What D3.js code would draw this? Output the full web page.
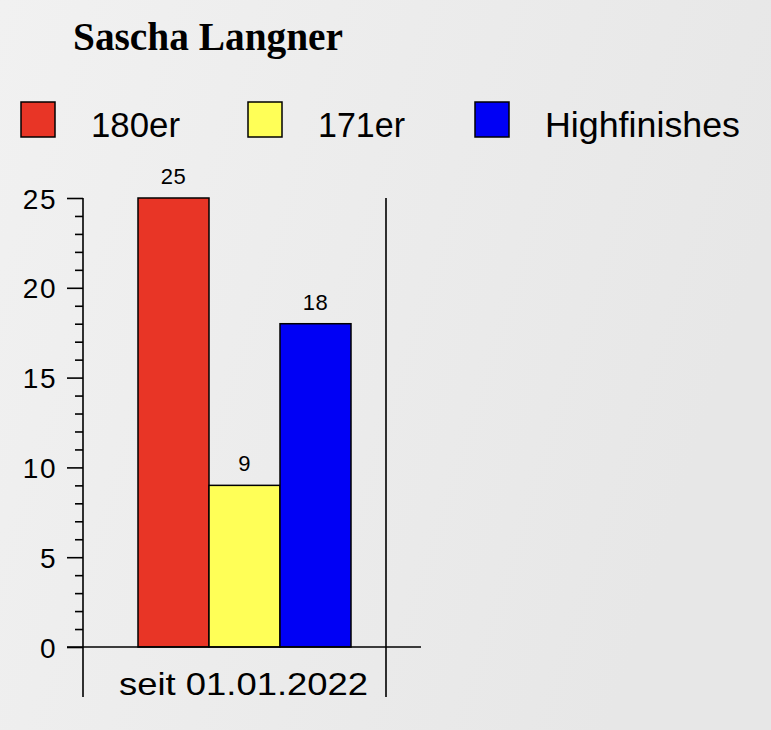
<!DOCTYPE html>
<html>
<head>
<meta charset="utf-8">
<script src="https://cdn.jsdelivr.net/npm/d3@7"></script>
<style>
html,body{margin:0;padding:0;}
body{width:771px;height:730px;overflow:hidden;}
</style>
</head>
<body>
<svg id="chart" width="771" height="730"></svg>
<script>
const title = "Sascha Langner";
const categories = ["seit 01.01.2022"];
const seriesNames = ["180er", "171er", "Highfinishes"];
const seriesValues = [25, 9, 18];
const seriesColors = ["#e83526", "#ffff57", "#0000f5"];
const yMajorTicks = [0, 5, 10, 15, 20, 25];

const svg = d3.select("#chart");
const defs = svg.append("defs");
const grad = defs.append("linearGradient").attr("id","bg").attr("x1","0").attr("y1","0").attr("x2","1").attr("y2","0.3");
grad.append("stop").attr("offset","0").attr("stop-color","#f1f1f1");
grad.append("stop").attr("offset","1").attr("stop-color","#e7e7e7");
svg.append("rect").attr("width",771).attr("height",730).attr("fill","url(#bg)");

// Title
svg.append("text").attr("x",73).attr("y",50)
  .attr("font-family","'Liberation Serif', 'Times New Roman', serif")
  .attr("font-weight","bold").attr("font-size",39)
  .attr("textLength",270).attr("lengthAdjust","spacingAndGlyphs")
  .text(title);

// Legend
const legendX = [21, 248, 475];
const legendW = [89, 87, 195];
const lg = svg.append("g");
seriesNames.forEach((n,i)=>{
  lg.append("rect").attr("x",legendX[i]).attr("y",102).attr("width",34).attr("height",35)
    .attr("fill",seriesColors[i]).attr("stroke","#000").attr("stroke-width",1.5);
  lg.append("text").attr("x",legendX[i]+70).attr("y",137)
    .attr("font-family","'Liberation Sans', Arial, Helvetica, sans-serif")
    .attr("font-size",35)
    .attr("textLength",legendW[i]).attr("lengthAdjust","spacingAndGlyphs")
    .text(n);
});

// Scales
const y = d3.scaleLinear().domain([0,25]).range([647,198]);
const x = d3.scaleBand().domain(categories).range([83,386]);
const inner = d3.scaleBand().domain(seriesNames)
  .range([x(categories[0]) + 55, x(categories[0]) + x.bandwidth() - 35]);

// Y axis
const yAxis = d3.axisLeft(y).tickValues(d3.range(0,26,1))
  .tickSize(16).tickPadding(10)
  .tickFormat(d => yMajorTicks.includes(d) ? d : "");
const ag = svg.append("g").attr("transform","translate(83,0)").call(yAxis);
ag.select(".domain").remove();
ag.selectAll(".tick line")
  .attr("x2", d => yMajorTicks.includes(d) ? -16 : -8)
  .attr("stroke","#000").attr("stroke-width",1.6);
ag.selectAll(".tick text")
  .attr("font-family","'Liberation Sans', Arial, Helvetica, sans-serif")
  .attr("font-size",28).attr("fill","#000")
  .attr("letter-spacing",1.5).attr("dy","0.36em");

// Frame lines
const lines = svg.append("g").attr("stroke","#000").attr("stroke-width",1.6);
lines.append("line").attr("x1",83).attr("x2",83).attr("y1",y(25)).attr("y2",697);
lines.append("line").attr("x1",x.range()[1]).attr("x2",x.range()[1]).attr("y1",y(25)).attr("y2",697);

// Bars
const bars = svg.append("g");
bars.selectAll("rect").data(seriesValues).join("rect")
  .attr("x",(d,i)=>inner(seriesNames[i]))
  .attr("width",inner.bandwidth())
  .attr("y",d=>y(d))
  .attr("height",d=>y(0)-y(d))
  .attr("fill",(d,i)=>seriesColors[i])
  .attr("stroke","#000").attr("stroke-width",1.5);

// Value labels
bars.selectAll("text").data(seriesValues).join("text")
  .attr("x",(d,i)=>inner(seriesNames[i])+inner.bandwidth()/2)
  .attr("y",d=>y(d)-14)
  .attr("text-anchor","middle")
  .attr("font-family","'Liberation Sans', Arial, Helvetica, sans-serif")
  .attr("font-size",22).attr("letter-spacing",0.5)
  .text(d=>d);

// X axis line
svg.append("line").attr("x1",67).attr("x2",421).attr("y1",y(0)).attr("y2",y(0))
  .attr("stroke","#000").attr("stroke-width",1.6);

// Category label
svg.selectAll("text.cat").data(categories).join("text").attr("class","cat")
  .attr("x",(inner.range()[0]+inner.range()[1])/2 - 1)
  .attr("y",695)
  .attr("text-anchor","middle")
  .attr("font-family","'Liberation Sans', Arial, Helvetica, sans-serif")
  .attr("font-size",32)
  .attr("textLength",249).attr("lengthAdjust","spacingAndGlyphs")
  .text(d=>d);
</script>
</body>
</html>
